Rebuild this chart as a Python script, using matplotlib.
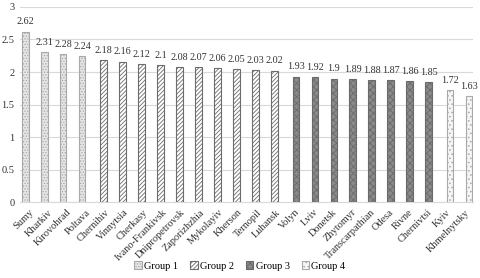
import matplotlib
matplotlib.use("Agg")
import matplotlib.pyplot as plt
from matplotlib.patches import Patch

plt.rcParams['font.family'] = ['Liberation Serif', 'DejaVu Serif']
plt.rcParams['hatch.linewidth'] = 0.6

regions = ["Sumy", "Kharkiv", "Kirovohrad", "Poltava",
           "Chernihiv", "Vinnytsia", "Cherkasy", "Ivano-Frankivsk", "Dnipropetrovsk",
           "Zaporizhzhia", "Mykolayiv", "Kherson", "Ternopil", "Luhansk",
           "Volyn", "Lviv", "Donetsk", "Zhytomyr", "Transcarpathian", "Odesa", "Rivne", "Chernivtsi",
           "Kyiv", "Khmelnytsky"]
values = [2.62, 2.31, 2.28, 2.24,
          2.18, 2.16, 2.12, 2.1, 2.08, 2.07, 2.06, 2.05, 2.03, 2.02,
          1.93, 1.92, 1.9, 1.89, 1.88, 1.87, 1.86, 1.85,
          1.72, 1.63]
groups = [1] * 4 + [2] * 10 + [3] * 8 + [4] * 2
group_names = ["Group 1", "Group 2", "Group 3", "Group 4"]

styles = {
    1: dict(facecolor='#e6e6e6', edgecolor='#a8a8a8', hatch='......'),
    2: dict(facecolor='white', edgecolor='#6c6c6c', hatch='////////'),
    3: dict(facecolor='#8a8a8a', edgecolor='#6a6a6a', hatch='xxxxx'),
    4: dict(facecolor='#f6f6f6', edgecolor='#a8a8a8', hatch='....'),
}
offsets = {1: -0.197, 2: -0.066, 3: 0.066, 4: 0.197}

fig = plt.figure(figsize=(4.8, 2.78), dpi=100)
ax = fig.add_axes([0.042, 0.273, 0.943, 0.702])

for i, (v, g) in enumerate(zip(values, groups)):
    x = i + offsets[g]
    ax.bar(x, v, width=0.34, linewidth=0.8, zorder=3, **styles[g])
    ax.text(x, v + 0.08, f"{v:g}", ha='center', va='bottom', fontsize=7.3, color='#333333')

ax.set_ylim(0, 3)
ax.set_xlim(-0.47, 23.4)
ax.set_yticks([0, 0.5, 1, 1.5, 2, 2.5, 3])
ax.set_yticklabels(["0", "0.5", "1", "1.5", "2", "2.5", "3"], fontsize=7.5, color='#333333')
ax.set_xticks(range(len(regions)))
ax.set_xticklabels(regions, rotation=45, ha='right', rotation_mode='anchor', fontsize=7.5, color='#333333')
ax.tick_params(axis='both', length=0, pad=4)
ax.grid(axis='y', color='#d9d9d9', linewidth=0.8, zorder=0)
for s in ['top', 'right', 'left']:
    ax.spines[s].set_visible(False)
ax.spines['bottom'].set_color('#d9d9d9')
ax.spines['bottom'].set_linewidth(0.8)

handles = [Patch(linewidth=0.8, **styles[g]) for g in [1, 2, 3, 4]]
fig.legend(handles, group_names, loc='center', bbox_to_anchor=(0.5, 0.043), ncol=4,
           frameon=False, fontsize=7.5, handlelength=0.7, handleheight=0.7,
           handletextpad=0.2, columnspacing=1.2)

fig.savefig("out.png", dpi=100)
